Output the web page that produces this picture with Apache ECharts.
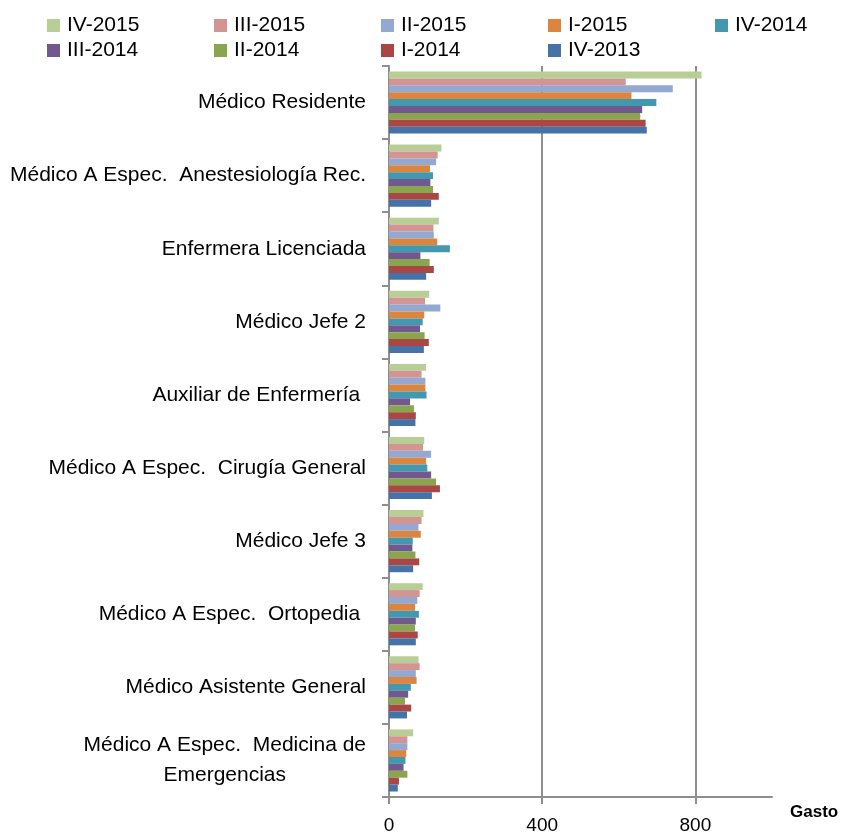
<!DOCTYPE html>
<html>
<head>
<meta charset="utf-8">
<script src="https://cdn.jsdelivr.net/npm/echarts@6/dist/echarts.min.js"></script>
<style>
html,body{margin:0;padding:0;background:#fff;}
#chart{width:843px;height:832px;}
</style>
</head>
<body>
<div id="chart"></div>
<script>
// Categories, top to bottom
var categories = [
  "Médico Residente",
  "Médico A Espec.  Anestesiología Rec.",
  "Enfermera Licenciada",
  "Médico Jefe 2",
  "Auxiliar de Enfermería ",
  "Médico A Espec.  Cirugía General",
  "Médico Jefe 3",
  "Médico A Espec.  Ortopedia ",
  "Médico Asistente General",
  "Médico A Espec.  Medicina de\nEmergencias"
];
var seriesNames = ["IV-2015","III-2015","II-2015","I-2015","IV-2014","III-2014","II-2014","I-2014","IV-2013"];
var seriesColors = ["#B9CD96","#D29592","#94A9D1","#DC853E","#4198AF","#71588F","#89A54E","#AA4643","#4572A7"];

var IV_2015  = [816,137,130,105,97,92,90,88,77,63];
var III_2015 = [618,127,116,94,85,89,85,80,80,48];
var II_2015  = [741,123,117,134,95,110,77,74,70,48];
var I_2015   = [633,107,126,92,95,97,83,68,72,45];
var IV_2014  = [698,115,159,88,98,100,62,78,57,43];
var III_2014 = [661,108,82,81,55,110,61,70,50,38];
var II_2014  = [656,115,106,93,65,123,69,68,42,48];
var I_2014   = [670,130,117,104,70,133,79,75,58,26];
var IV_2013  = [673,110,97,91,69,112,63,70,47,23];

var xTicks = [0,400,800];

var seriesData = [IV_2015,III_2015,II_2015,I_2015,IV_2014,III_2014,II_2014,I_2014,IV_2013];

var chart = echarts.init(document.getElementById('chart'), null, {renderer:'canvas'});
var FONT = 'Liberation Sans';

var legends = seriesNames.map(function(n,i){
  return {
    data:[n],
    left: 42 + (i%5)*167,
    top: i<5 ? 10 : 35,
    icon:'rect',
    itemWidth:13,
    itemHeight:13,
    selectedMode:false,
    textStyle:{fontFamily:FONT,fontSize:21,color:'#000',padding:[0,0,0,2]}
  };
});

var series = seriesNames.map(function(n,i){
  return {
    name:n,
    type:'bar',
    data:seriesData[i],
    itemStyle:{color:seriesColors[i]},
    barGap:'0%',
    barCategoryGap:'15%',
    animation:false
  };
});

var option = {
  animation:false,
  textStyle:{fontFamily:FONT},
  legend: legends,
  grid:{left:389,right:71,top:66,bottom:35,containLabel:false,outerBoundsMode:'none'},
  xAxis:{
    type:'value',
    min:0,max:1000,interval:400,
    name:'Gasto',
    nameLocation:'end',
    nameGap:18,
    nameTextStyle:{fontFamily:FONT,fontSize:17,fontWeight:'bold',color:'#000',align:'left',verticalAlign:'top',padding:[7,0,0,0]},
    axisLine:{show:true,lineStyle:{color:'#8e8e8e',width:2}},
    axisTick:{show:true,length:7,lineStyle:{color:'#8e8e8e',width:2},
      customValues: xTicks},
    axisLabel:{fontFamily:FONT,fontSize:19,color:'#000',margin:19,
      customValues: xTicks},
    splitLine:{show:true,lineStyle:{color:'#8e8e8e',width:2}}
  },
  yAxis:{
    type:'category',
    data:categories,
    inverse:true,
    axisLine:{show:true,lineStyle:{color:'#8e8e8e',width:2}},
    axisTick:{show:true,length:7,lineStyle:{color:'#8e8e8e',width:2}},
    axisLabel:{
      margin:23,
      fontFamily:FONT,fontSize:21,color:'#000',
      formatter:function(v){
        return v.split('\n').map(function(s){return '{c|'+s+'}';}).join('\n');
      },
      rich:{c:{fontFamily:FONT,fontSize:21,color:'#000',align:'center',lineHeight:30}}
    },
    splitLine:{show:false}
  },
  series: series
};
chart.setOption(option);
</script>
</body>
</html>
